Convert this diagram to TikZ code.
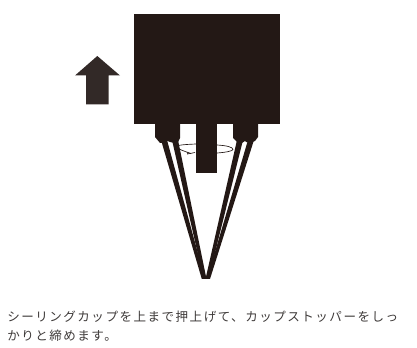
\documentclass[tikz,border=0pt]{standalone}
\usepackage{xcolor}
\usepackage{fontspec}
\usetikzlibrary{positioning,calc}
\newfontfamily\jpfont[LetterSpace=12]{Noto Sans CJK JP}
\definecolor{DARK_body}{RGB}{35,24,21}
\definecolor{DARK_arrow}{RGB}{50,41,39}
\definecolor{GREY_text}{RGB}{62,58,57}
\tikzset{
  part/.style={fill=DARK_body, draw=none},
  turn/.style={DARK_body, line width=0.5pt},
  caption/.style={anchor=west, inner sep=0pt, GREY_text, font=\jpfont\fontsize{9.4pt}{12pt}\selectfont},
}
\begin{document}
\begin{tikzpicture}[x=0.75pt,y=-0.75pt]
        \useasboundingbox (0,0) rectangle (417,348);
        % Draw legs
        \fill[part] (161,140) -- (167,140) -- (205,279) -- (201.8,279) -- cycle;
        \fill[part] (172,140) -- (178,140) -- (206.5,279) -- (203.5,279) -- cycle;
        \fill[part] (237,140) -- (243,140) -- (208.5,279) -- (205.5,279) -- cycle;
        \fill[part] (248,140) -- (254,140) -- (210,279) -- (207,279) -- cycle;
        % Draw body and stem
        \fill[part] (134,14) rectangle (280,124);
        \fill[part] (196,124) rectangle (217,173);
        % Draw clamps
        \fill[part] (155,124) -- (180,124) -- (180,138) -- (178,142) -- (174,143) -- (170,142) -- (167.5,141) -- (165,143) -- (160,143) -- (155,137) -- cycle;
        \fill[part] (233,124) -- (258,124) -- (258,137) -- (255,141) -- (250,143) -- (246,142) -- (245,141) -- (242,143) -- (238,143) -- (233,138) -- cycle;
        % Draw turning mark
        \draw[turn] (196,144) .. controls (185,144.5) and (177,145) .. (177,146.5) .. controls (177,149) and (185,151.5) .. (191,153.5);
        \draw[turn] (217,145) .. controls (226,145.5) and (233,147) .. (233,149.5) .. controls (233,151) and (225,152.5) .. (217,153);
        \draw[turn] (195,152.5) -- (187.5,154) -- (188,152);
        % Label
        \node[caption] (line1) at (7,316.5) {シーリングカップを上まで押上げて、カップストッパーをしっ};
        \node[caption] (line2) at (7,336) {かりと締めます。};
        % Draw arrow
        \fill[DARK_arrow] (97.3,56) -- (120,75.5) -- (108.7,75.5) -- (108.7,104.5) -- (86,104.5) -- (86,75.5) -- (75,75.5) -- cycle;
\end{tikzpicture}
\end{document}
